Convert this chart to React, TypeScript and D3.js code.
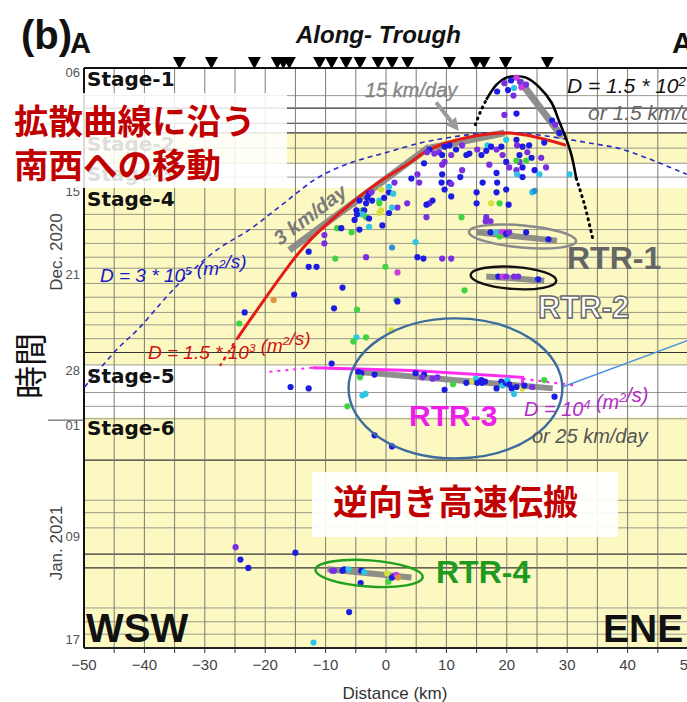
import React from 'react';
import * as d3 from 'd3';

const W = 687;
const H = 702;

// Axis ticks: distance along trough (km) and days after 6 Dec 2020
const xTickValues = [-50, -40, -30, -20, -10, 0, 10, 20, 30, 40, 50];
const xGridKm = [-45, -40, -35, -30, -25, -20, -15, -10, -5, 0, 5, 10, 15, 20, 25, 30, 35, 40, 45];
const yTickDays = [0, 5, 9, 15, 22, 26, 34, 42];
const yTickLabels = ['06', '11', '15', '21', '28', '01', '09', '17'];
const gridDaysLight = [2.0, 5.8, 6.9, 7.9, 10.6, 11.7, 12.7, 13.7, 14.5, 15.6, 16.6, 17.7, 18.6, 19.6, 21.5, 23.5, 24.5, 25.4, 31.3, 32.2, 33.3, 39.1, 40.1, 41.0];
const gridDaysDark = [2.9, 4.0, 4.7, 20.6, 28.4, 35.2, 36.2];

// Activity stages
const stageNames = ['Stage-1', 'Stage-2', 'Stage-3', 'Stage-4', 'Stage-5', 'Stage-6'];
const stageStart = [0, 4.7, 6.9, 8.7, 21.5, 25.3];
const stageEnd = [4.7, 6.9, 8.7, 21.5, 25.3, 42];
const stageShaded = [false, true, false, true, false, true];

// Seismic stations along the trough (km)
const stationKm = [-34.2, -28.9, -21.8, -18.0, -17.0, -16.0, -11.0, -9.0, -6.6, -4.3, -1.3, 1.0, 3.6, 10.5, 14.9, 16.2, 19.8, 26.7];

// Hypocentres: [distance km, day, type]
const events: [number, number, string][] = [
  [19.6, 1.1, 'p'], [20.7, 0.9, 'b'], [21.6, 0.7, 'm'], [22.2, 1.0, 'p'], [20.2, 1.6, 'b'], [21.2, 1.45, 'c'], [22.4, 1.4, 'm'],
  [18.4, 1.7, 'b'], [21.1, 2.0, 'p'], [23.2, 1.2, 'p'], [19.6, 3.4, 'p'], [21.6, 3.3, 'b'], [27.5, 3.8, 'b'], [28.0, 4.1, 'p'], [28.7, 4.7, 'b'],
  [7.2, 5.9, 'b'], [8.0, 6.2, 'p'], [8.8, 6.1, 'p'], [9.3, 6.3, 'b'], [9.7, 6.8, 'p'], [9.2, 8.3, 'b'], [11.6, 5.9, 'b'], [12.6, 7.4, 'p'],
  [13.8, 6.2, 'b'], [15.1, 5.9, 'p'], [15.8, 6.3, 'b'], [16.8, 5.6, 'c'], [17.4, 5.7, 'b'], [17.1, 7.0, 'p'], [18.3, 5.9, 'p'], [19.1, 5.7, 'b'],
  [19.3, 6.3, 'p'], [19.9, 6.8, 'b'], [20.4, 7.2, 'p'], [18.3, 7.6, 'b'], [19.9, 5.2, 'c'], [21.6, 5.2, 'b'], [21.7, 5.6, 'p'], [22.1, 6.3, 'b'],
  [22.6, 5.7, 'b'], [23.4, 6.1, 'p'], [23.7, 5.6, 'b'], [24.1, 6.5, 'b'], [22.1, 6.8, 'p'], [21.6, 6.7, 'g'], [23.2, 6.7, 'g'], [21.6, 7.4, 'p'],
  [21.7, 7.7, 'c'], [22.6, 7.2, 'b'], [26.2, 5.4, 'b'], [25.7, 6.5, 'p'], [22.6, 7.9, 'b'], [24.6, 7.4, 'b'], [12.6, 5.6, 'p'], [10.5, 5.6, 'b'],
  [6.8, 6.1, 'p'], [9.7, 5.7, 'b'], [6.3, 6.9, 'b'], [5.2, 7.7, 'p'], [4.2, 8.0, 'b'], [5.5, 8.3, 'p'], [9.3, 7.0, 'p'], [9.3, 7.7, 'b'],
  [10.5, 8.3, 'b'], [10.8, 6.3, 'p'], [12.3, 7.9, 'b'], [13.3, 6.3, 'b'], [16.6, 6.0, 'b'], [25.4, 7.7, 'c'], [26.5, 7.2, 'p'], [30.4, 7.7, 'c'],
  [10.8, 8.4, 'p'], [16.0, 8.3, 'b'], [18.4, 8.3, 'b'], [9.7, 8.8, 'b'],
  [15.0, 9.0, 'b'], [18.3, 9.0, 'b'], [19.9, 8.8, 'b'], [18.8, 9.8, 'g'], [17.4, 9.8, 'y'], [24.2, 9.0, 'c'], [24.6, 8.9, 't'], [7.2, 9.8, 'p'],
  [10.8, 9.3, 'b'], [7.7, 9.6, 'b'], [15.0, 9.8, 'b'], [20.3, 9.9, 'b'], [12.5, 10.8, 'g'], [16.6, 10.8, 'p'], [16.5, 11.1, 'p'], [17.3, 11.1, 'p'],
  [6.7, 9.9, 'b'], [6.7, 10.8, 'p'], [3.5, 9.8, 'p'],
  [0.5, 9.0, 'b'], [1.4, 8.3, 'p'], [-0.8, 8.8, 'y'], [0.5, 8.6, 'c'], [1.2, 9.1, 'c'], [-2.8, 9.1, 'b'], [-2.3, 9.6, 'b'], [-4.4, 9.6, 'b'],
  [-3.9, 10.3, 'g'], [-1.1, 9.6, 'c'], [0.5, 10.5, 'b'], [1.9, 10.1, 'p'], [-1.1, 10.5, 'y'], [-2.4, 9.0, 'p'], [-3.1, 9.4, 'b'], [-3.3, 9.8, 'b'],
  [-3.6, 10.3, 'b'], [-4.9, 10.3, 'b'], [-3.9, 10.6, 'c'], [-3.3, 10.8, 'g'], [-2.8, 10.9, 'b'], [-4.8, 10.6, 'b'], [-5.2, 11.0, 'b'], [-1.1, 9.8, 'g'],
  [-0.8, 10.3, 'y'], [-0.3, 9.4, 'b'], [1.0, 10.1, 'c'], [-2.8, 11.5, 'c'], [-0.6, 11.4, 'b'], [-8.1, 11.6, 'g'], [-7.4, 11.6, 'b'], [-5.7, 11.9, 'g'],
  [-4.4, 11.7, 'b'], [-10.2, 12.1, 'p'], [-10.2, 12.7, 'p'], [-12.8, 13.3, 'b'], [-12.8, 14.4, 'b'], [-11.5, 14.4, 'b'], [-8.4, 13.8, 'g'], [-3.3, 13.7, 'p'],
  [1.0, 13.0, 't'], [4.9, 12.6, 'c'], [5.2, 13.7, 'b'], [6.2, 13.8, 'b'], [9.3, 13.8, 'p'], [10.8, 13.8, 'p'], [-0.1, 14.4, 'g'], [1.9, 14.8, 'm'],
  [-7.2, 15.9, 'b'], [-15.2, 16.4, 'b'], [-18.6, 16.8, 'o'], [1.7, 16.8, 'g'], [1.9, 16.9, 'b'], [13.0, 16.1, 'g'], [-8.6, 17.4, 'b'], [-4.8, 17.5, 'g'],
  [0.9, 19.0, 'y'], [-4.9, 19.5, 'c'], [-3.3, 19.5, 'g'], [-5.4, 19.8, 'g'], [-23.4, 17.7, 'b'], [-24.3, 18.5, 'g'], [-9.0, 21.4, 'b'],
  [17.3, 11.9, 'b'], [18.3, 11.9, 'c'], [19.1, 11.9, 'm'], [19.6, 11.9, 'm'], [19.9, 12.0, 'b'], [20.4, 11.9, 'p'], [18.8, 12.2, 'g'], [23.2, 11.9, 'b'], [26.9, 12.4, 'b'],
  [18.6, 15.1, 'b'], [19.3, 15.1, 'm'], [19.9, 15.1, 'p'], [21.2, 15.1, 'p'], [21.9, 15.1, 'p'], [25.2, 15.3, 'b'],
  [-15.8, 23.1, 'b'], [-12.8, 23.2, 'b'], [-6.4, 24.5, 'g'],
  [-4.6, 22.0, 'b'], [-4.1, 22.1, 'b'], [-4.3, 22.4, 'g'], [-1.9, 22.2, 'b'], [4.9, 22.1, 'b'], [6.3, 22.2, 'b'], [6.0, 22.4, 'p'], [7.7, 22.5, 'p'],
  [8.5, 22.4, 'p'], [9.7, 23.3, 'b'], [11.1, 22.9, 'g'], [13.3, 22.8, 'b'], [14.3, 22.7, 'y'], [14.9, 22.5, 'c'], [15.1, 22.8, 'b'], [15.8, 22.6, 'b'],
  [15.9, 22.8, 'b'], [16.4, 22.7, 'b'], [18.3, 23.2, 'b'], [19.1, 22.7, 'b'], [19.3, 23.0, 'c'], [19.8, 22.8, 'b'], [20.1, 22.6, 'c'], [20.4, 22.9, 'b'],
  [20.8, 23.2, 'b'], [21.2, 23.6, 'c'], [21.6, 23.1, 'b'], [22.6, 23.2, 'y'], [22.9, 23.0, 'b'], [24.2, 23.1, 'p'], [26.2, 22.6, 'g'], [27.9, 23.8, 'b'],
  [-3.9, 23.7, 'c'], [-3.4, 23.6, 'c'], [-1.9, 26.6, 'b'], [1.0, 27.4, 'b'],
  [-24.9, 34.7, 'p'], [-24.1, 35.6, 'b'], [-22.8, 36.2, 'b'], [-15.0, 35.1, 'b'], [-8.9, 36.4, 'p'], [-8.6, 36.4, 'p'], [-7.2, 36.4, 'b'], [-6.9, 36.3, 'b'],
  [-6.2, 36.3, 'c'], [-4.1, 36.4, 'b'], [-3.6, 36.5, 'c'], [-4.2, 37.3, 'b'], [0.2, 36.6, 'y'], [0.4, 37.2, 'g'], [1.0, 36.9, 'b'], [1.4, 36.8, 'b'],
  [1.7, 36.7, 'm'], [2.0, 36.9, 'o'], [-6.1, 39.4, 'b'], [-12.0, 41.6, 'c'],
];

const eventColor: Record<string, string> = {
  b: '#1c1ce2', p: '#7b2fe2', m: '#cf3ae2', c: '#2cc6e4', t: '#2f8fd6', g: '#3fd43f', y: '#d6e03c', o: '#e0963c',
};

// Diffusion / migration fronts: [km, day]
const blueDiffusion: [number, number][] = [
  [-49.9, 23.1], [-44.6, 20.4], [-40.8, 18.8], [-36.4, 16.6], [-33.1, 15.1], [-28.1, 13.2], [-22.6, 11.7], [-17.2, 9.9],
  [-11.5, 8.0], [-6.1, 6.9], [-0.6, 6.2], [6.0, 5.4], [11.0, 5.0], [16.6, 4.7], [22.1, 4.7], [29.2, 5.1], [33.2, 5.4], [39.2, 5.9], [49.8, 7.7],
];
const redDiffusion: [number, number][] = [
  [-24.5, 19.5], [-15.2, 13.8], [-12.2, 12.3], [-6.6, 10.1], [-0.6, 8.1], [3.8, 6.9], [7.2, 5.9], [13.8, 5.0],
  [19.9, 4.7], [23.7, 4.9], [27.5, 5.3], [29.8, 5.6],
];
const redDotted: [number, number][] = [[-24.5, 19.5], [-27.4, 21.5]];
const blackDiffusion: [number, number][] = [
  [16.6, 2.3], [18.3, 1.2], [19.9, 0.7], [21.7, 0.6], [23.2, 0.7], [25.4, 1.4], [27.4, 2.5], [28.7, 3.9], [29.8, 5.1], [30.7, 6.3], [31.5, 8.0],
];
const blackDottedTop: [number, number][] = [[14.8, 4.1], [15.6, 3.2], [16.6, 2.3]];
const blackDottedBottom: [number, number][] = [[31.5, 8.0], [32.8, 9.8], [34.2, 12.3]];
const pinkSolid: [number, number][] = [[-12.2, 21.7], [4.4, 21.9], [22.6, 22.4], [22.6, 23.0]];
const pinkDottedLeft: [number, number][] = [[-19.3, 22.0], [-12.2, 21.7]];
const pinkDottedRight: [number, number][] = [[22.6, 22.5], [31.5, 23.0]];

// Migration-speed fits and RTR trends
const speedLines: [number, number][][] = [
  [[-16.0, 13.2], [7.2, 5.7]],
  [[7.2, 5.8], [19.6, 4.7]],
  [[22.1, 0.9], [29.2, 5.0]],
  [[15.0, 11.9], [28.3, 12.5]],
  [[16.6, 15.1], [26.2, 15.4]],
  [[-4.9, 22.0], [27.6, 23.2]],
  [[-9.7, 36.3], [4.2, 36.9]],
];
const calloutLine: [number, number][] = [[29.2, 23.1], [52, 19.4]];
const arrow15: [number, number][] = [[8.3, 2.5], [11.4, 4.2]];

// RTR episodes: centre (km, day), half-widths (km, day), tilt, stroke
const rtrNames = ['RTR-1', 'RTR-2', 'RTR-3', 'RTR-4'];
const rtrCenter: [number, number][] = [[22.6, 12.2], [21.1, 15.2], [11.5, 23.2], [-2.8, 36.6]];
const rtrHalf: [number, number][] = [[8.9, 0.8], [7.1, 0.8], [17.7, 5.07], [8.9, 0.95]];
const rtrTilt = [5, 4, 0, 4];
const rtrStroke = ['#8a8a8a', '#111111', '#3c6c9c', '#1fa01f'];

const SANS = '"Liberation Sans", Arial, sans-serif';
const JP = '"Noto Sans CJK JP", "Noto Sans", sans-serif';

export default function App() {
  const x = d3.scaleLinear().domain([-50, 50]).range([84, 688]);
  const y = d3.scaleLinear().domain([0, 42]).range([68, 648]);
  const smooth = d3.line<[number, number]>().x(d => x(d[0])).y(d => y(d[1])).curve(d3.curveCatmullRom.alpha(0.5));
  const straight = d3.line<[number, number]>().x(d => x(d[0])).y(d => y(d[1]));

  const [x0, x1] = x.range();
  const [y0, y1] = y.range();

  const sup = (t: string) => (
    <>
      <tspan dy={-7} fontSize="0.62em">{t}</tspan>
      <tspan dy={7}>{''}</tspan>
    </>
  );

  return (
    <div style={{ position: 'fixed', left: 0, top: 0, width: W, height: H, background: '#fff' }}>
      <svg width={W} height={H} style={{ display: 'block', overflow: 'hidden' }}>
        <defs>
          <clipPath id="plot">
            <rect x={x0} y={y0} width={x1 - x0} height={y1 - y0} />
          </clipPath>
          <marker id="grayHead" viewBox="0 0 10 10" refX="5" refY="5" markerWidth="3.2" markerHeight="3.2" orient="auto">
            <path d="M0,0 L10,5 L0,10 z" fill="#9a9a9a" />
          </marker>
        </defs>

        {/* stage bands */}
        {stageNames.map((s, i) => (
          <rect key={s} x={x0} y={y(stageStart[i])} width={x1 - x0} height={y(stageEnd[i]) - y(stageStart[i])}
            fill={stageShaded[i] ? '#fbf8c2' : '#ffffff'} />
        ))}

        {/* grid */}
        {gridDaysLight.map(d => (
          <line key={'gl' + d} x1={x0} x2={x1} y1={y(d)} y2={y(d)} stroke="#8e8e84" strokeWidth={0.9} />
        ))}
        {gridDaysDark.map(d => (
          <line key={'gd' + d} x1={x0} x2={x1} y1={y(d)} y2={y(d)} stroke="#333" strokeWidth={1.2} />
        ))}
        {xGridKm.map(k => (
          <line key={'vx' + k} x1={x(k)} x2={x(k)} y1={y0} y2={y1} stroke="#7c7c6e" strokeWidth={1} />
        ))}

        {/* frame */}
        <line x1={x0} x2={x1} y1={y0} y2={y0} stroke="#111" strokeWidth={2} />
        <line x1={x0} x2={x1} y1={y1} y2={y1} stroke="#222" strokeWidth={2} />
        <line x1={x0} x2={x0} y1={y0} y2={y1} stroke="#111" strokeWidth={2} />
        <line x1={48} x2={x0} y1={y(25.5)} y2={y(25.5)} stroke="#444" strokeWidth={1} />
        {xGridKm.map(k => (
          <line key={'tk' + k} x1={x(k)} x2={x(k)} y1={y1} y2={y1 + 5} stroke="#333" strokeWidth={1} />
        ))}

        {/* stations */}
        {stationKm.map((k, i) => (
          <path key={'st' + i} d={`M${x(k) - 6.5},57 L${x(k) + 6.5},57 L${x(k)},69 Z`} fill="#000" />
        ))}

        <g clipPath="url(#plot)">
          {/* diffusion curves */}
          <path d={smooth(blueDiffusion)!} fill="none" stroke="#2a2ac4" strokeWidth={1.6} strokeDasharray="5 4" />
          {/* migration speed fits */}
          {speedLines.map((l, i) => (
            <path key={'sp' + i} d={straight(l)!} fill="none" stroke="#858585" strokeWidth={i < 3 ? 7 : 6} strokeLinecap="butt" opacity={0.92} />
          ))}
          <path d={smooth(redDiffusion)!} fill="none" stroke="#e41c14" strokeWidth={3} />
          <path d={straight(redDotted)!} fill="none" stroke="#e41c14" strokeWidth={2.5} strokeDasharray="2 6" strokeLinecap="round" />
          <path d={smooth(blackDiffusion)!} fill="none" stroke="#000" strokeWidth={2.6} />
          <path d={smooth(blackDottedTop)!} fill="none" stroke="#000" strokeWidth={3} strokeDasharray="1 5" strokeLinecap="round" />
          <path d={smooth(blackDottedBottom)!} fill="none" stroke="#000" strokeWidth={3} strokeDasharray="1 5" strokeLinecap="round" />
          <path d={straight(pinkSolid)!} fill="none" stroke="#ff2cf0" strokeWidth={3} />
          <path d={straight(pinkDottedLeft)!} fill="none" stroke="#ff2cf0" strokeWidth={2} strokeDasharray="3 5" />
          <path d={straight(pinkDottedRight)!} fill="none" stroke="#ff2cf0" strokeWidth={2.2} strokeDasharray="3 5" />

          {/* hypocentres */}
          {events.map((e, i) => (
            <circle key={'ev' + i} cx={x(e[0])} cy={y(e[1])} r={3.1} fill={eventColor[e[2]]} />
          ))}
        </g>

        <path d={straight(calloutLine)!} fill="none" stroke="#4a94dc" strokeWidth={1.4} />
        <path d={straight(arrow15)!} fill="none" stroke="#9a9a9a" strokeWidth={4} markerEnd="url(#grayHead)" />

        {/* RTR episodes */}
        {rtrNames.map((n, i) => {
          const cx = x(rtrCenter[i][0]);
          const cy = y(rtrCenter[i][1]);
          return (
            <ellipse key={n} cx={cx} cy={cy}
              rx={x(rtrCenter[i][0] + rtrHalf[i][0]) - cx} ry={y(rtrCenter[i][1] + rtrHalf[i][1]) - cy}
              transform={`rotate(${rtrTilt[i]} ${cx} ${cy})`} fill="none" stroke={rtrStroke[i]} strokeWidth={2.4} />
          );
        })}

        {/* stage labels */}
        {stageNames.map((s, i) => (
          <text key={'lbl' + s} x={87} y={y(stageStart[i]) + 18} fontFamily='"DejaVu Sans", sans-serif' fontWeight="bold" fontSize={20} fill="#111">{s}</text>
        ))}

        {/* axis labels */}
        {yTickDays.map((d, i) => (
          <text key={'yt' + i} x={80} y={Math.min(Math.max(y(d), 74), 641)} textAnchor="end" dominantBaseline="middle"
            fontFamily={SANS} fontSize={13} fill="#555">{yTickLabels[i]}</text>
        ))}
        {xTickValues.map(v => (
          <text key={'xt' + v} x={x(v)} y={666} textAnchor="middle" dominantBaseline="middle" fontFamily={SANS} fontSize={15} fill="#444">
            {v < 0 ? '\u2212' + Math.abs(v) : String(v)}
          </text>
        ))}
        <text x={395} y={699} textAnchor="middle" fontFamily={SANS} fontSize={17} fill="#333">Distance (km)</text>
        <text transform="translate(62,252) rotate(-90)" textAnchor="middle" fontFamily={SANS} fontSize={17} fill="#444">Dec. 2020</text>
        <text transform="translate(62,543) rotate(-90)" textAnchor="middle" fontFamily={SANS} fontSize={17} fill="#444">Jan. 2021</text>
        <text transform="translate(43,366) rotate(-90)" textAnchor="middle" fontFamily={JP} fontSize={33} fill="#111">時間</text>

        {/* headings */}
        <text x={21} y={49} fontFamily={SANS} fontWeight="bold" fontSize={40} fill="#111">(b)</text>
        <text x={70} y={53} fontFamily={SANS} fontWeight="bold" fontSize={29} fill="#111">A</text>
        <text x={296} y={43} fontFamily={SANS} fontWeight="bold" fontStyle="italic" fontSize={24} fill="#111">Along- Trough</text>
        <text x={672} y={53} fontFamily={SANS} fontWeight="bold" fontSize={29} fill="#111">A'</text>

        {/* curve annotations */}
        <text x={365} y={97} fontFamily={SANS} fontStyle="italic" fontSize={20} fill="#8a8a8a" stroke="#777" strokeWidth={0.3}>15 km/day</text>
        <text x={567} y={93} fontFamily={SANS} fontStyle="italic" fontSize={21} fill="#111">D = 1.5 * 10{sup('2')} (m²/s)</text>
        <text x={588} y={120} fontFamily={SANS} fontStyle="italic" fontSize={21} fill="#666">or 1.5 km/day</text>
        <text transform="translate(280,246) rotate(-37)" fontFamily={SANS} fontWeight="bold" fontStyle="italic" fontSize={20} fill="#7a7a7a">3 km/day</text>
        <text x={100} y={282} fontFamily={SANS} fontStyle="italic" fontSize={19} fill="#1818c8">D = 3 * 10{sup('5')} (m{sup('2')}/s)</text>
        <text x={148} y={359} fontFamily={SANS} fontStyle="italic" fontSize={19} fill="#d01010">D = 1.5 * 10{sup('3')} (m{sup('2')}/s)</text>
        <text x={524} y={416} fontFamily={SANS} fontStyle="italic" fontSize={20} fill="#b02cc4">D = 10{sup('4')} (m{sup('2')}/s)</text>
        <text x={532} y={443} fontFamily={SANS} fontStyle="italic" fontSize={20} fill="#555">or 25 km/day</text>

        {/* RTR labels */}
        <text x={567} y={269} fontFamily={SANS} fontWeight="bold" fontSize={32} fill="#666">RTR-1</text>
        <text x={538} y={318} fontFamily={SANS} fontWeight="bold" fontSize={31} fill="#fff" stroke="#666" strokeWidth={1.4}>RTR-2</text>
        <text x={409} y={426} fontFamily={SANS} fontWeight="bold" fontSize={30} fill="#ee1eea">RTR-3</text>
        <text x={436} y={583} fontFamily={SANS} fontWeight="bold" fontSize={32} fill="#1e9a1e">RTR-4</text>

        {/* direction labels */}
        <text x={86} y={642} fontFamily={SANS} fontWeight="bold" fontSize={40} fill="#111">WSW</text>
        <text x={603} y={642} fontFamily={SANS} fontWeight="bold" fontSize={39} fill="#111">ENE</text>

        {/* Japanese callouts */}
        <rect x={0} y={93} width={287} height={95} fill="#fff" opacity={0.86} />
        <text x={14} y={134} fontFamily={JP} fontWeight="bold" fontSize={34.5} fill="#c00000">拡散曲線に沿う</text>
        <text x={14} y={178} fontFamily={JP} fontWeight="bold" fontSize={34.5} fill="#c00000">南西への移動</text>
        <rect x={312} y={472} width={306} height={65} fill="#fff" opacity={0.93} />
        <text x={333} y={515} fontFamily={JP} fontWeight="bold" fontSize={35} fill="#c00000">逆向き高速伝搬</text>
      </svg>
    </div>
  );
}
